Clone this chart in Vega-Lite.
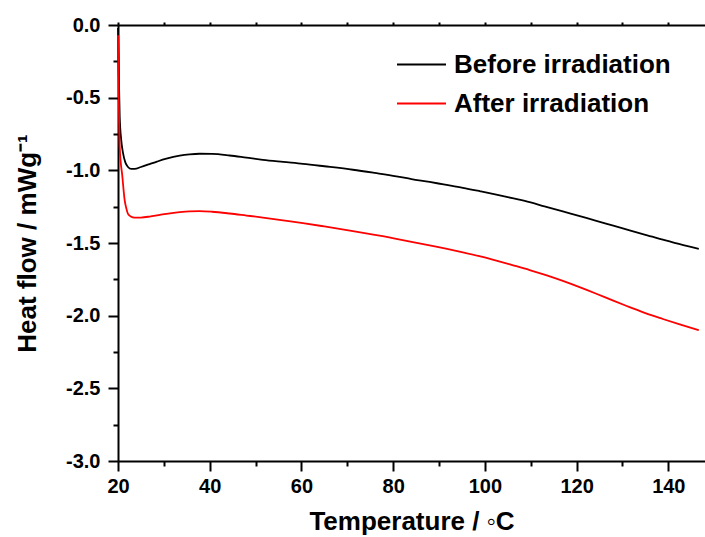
{
  "$schema": "https://vega.github.io/schema/vega-lite/v6.json",
  "width": 587,
  "height": 436,
  "autosize": {"type": "none"},
  "padding": {"left": 118, "top": 25, "right": 0, "bottom": 76},
  "background": "white",
  "config": {
    "view": {"stroke": null},
    "axis": {
      "domainColor": "black", "domainWidth": 2,
      "tickColor": "black", "tickWidth": 2,
      "labelFont": "Liberation Sans", "labelFontWeight": "bold", "labelFontSize": 20, "labelColor": "black",
      "titleFont": "Liberation Sans", "titleFontWeight": "bold", "titleFontSize": 26, "titleColor": "black",
      "grid": false, "labelFlush": false, "labelOverlap": false
    }
  },
  "data": {"values": [
    {"T": 20.0, "hf": -0.02, "s": "Before irradiation"},
    {"T": 20.15, "hf": -0.3, "s": "Before irradiation"},
    {"T": 20.37, "hf": -0.63, "s": "Before irradiation"},
    {"T": 20.7, "hf": -0.79, "s": "Before irradiation"},
    {"T": 21.09, "hf": -0.88, "s": "Before irradiation"},
    {"T": 21.6, "hf": -0.945, "s": "Before irradiation"},
    {"T": 22.18, "hf": -0.977, "s": "Before irradiation"},
    {"T": 22.9, "hf": -0.99, "s": "Before irradiation"},
    {"T": 23.64, "hf": -0.99, "s": "Before irradiation"},
    {"T": 25.0, "hf": -0.977, "s": "Before irradiation"},
    {"T": 26.9, "hf": -0.957, "s": "Before irradiation"},
    {"T": 28.5, "hf": -0.94, "s": "Before irradiation"},
    {"T": 30.55, "hf": -0.92, "s": "Before irradiation"},
    {"T": 33.45, "hf": -0.899, "s": "Before irradiation"},
    {"T": 35.6, "hf": -0.89, "s": "Before irradiation"},
    {"T": 37.8, "hf": -0.886, "s": "Before irradiation"},
    {"T": 40.5, "hf": -0.887, "s": "Before irradiation"},
    {"T": 44.35, "hf": -0.898, "s": "Before irradiation"},
    {"T": 48.0, "hf": -0.913, "s": "Before irradiation"},
    {"T": 51.6, "hf": -0.928, "s": "Before irradiation"},
    {"T": 56.0, "hf": -0.942, "s": "Before irradiation"},
    {"T": 60.33, "hf": -0.955, "s": "Before irradiation"},
    {"T": 65.0, "hf": -0.972, "s": "Before irradiation"},
    {"T": 71.23, "hf": -0.996, "s": "Before irradiation"},
    {"T": 76.0, "hf": -1.018, "s": "Before irradiation"},
    {"T": 80.69, "hf": -1.041, "s": "Before irradiation"},
    {"T": 84.0, "hf": -1.06, "s": "Before irradiation"},
    {"T": 87.95, "hf": -1.08, "s": "Before irradiation"},
    {"T": 91.0, "hf": -1.097, "s": "Before irradiation"},
    {"T": 95.2, "hf": -1.12, "s": "Before irradiation"},
    {"T": 99.0, "hf": -1.144, "s": "Before irradiation"},
    {"T": 102.5, "hf": -1.167, "s": "Before irradiation"},
    {"T": 106.0, "hf": -1.192, "s": "Before irradiation"},
    {"T": 109.76, "hf": -1.219, "s": "Before irradiation"},
    {"T": 113.0, "hf": -1.248, "s": "Before irradiation"},
    {"T": 117.0, "hf": -1.283, "s": "Before irradiation"},
    {"T": 120.5, "hf": -1.314, "s": "Before irradiation"},
    {"T": 124.3, "hf": -1.347, "s": "Before irradiation"},
    {"T": 128.0, "hf": -1.381, "s": "Before irradiation"},
    {"T": 131.56, "hf": -1.413, "s": "Before irradiation"},
    {"T": 135.0, "hf": -1.444, "s": "Before irradiation"},
    {"T": 138.8, "hf": -1.476, "s": "Before irradiation"},
    {"T": 142.5, "hf": -1.508, "s": "Before irradiation"},
    {"T": 146.65, "hf": -1.54, "s": "Before irradiation"},
    {"T": 20.0, "hf": -0.07, "s": "After irradiation"},
    {"T": 20.15, "hf": -0.45, "s": "After irradiation"},
    {"T": 20.37, "hf": -0.84, "s": "After irradiation"},
    {"T": 20.96, "hf": -1.046, "s": "After irradiation"},
    {"T": 21.46, "hf": -1.207, "s": "After irradiation"},
    {"T": 21.8, "hf": -1.26, "s": "After irradiation"},
    {"T": 22.18, "hf": -1.3, "s": "After irradiation"},
    {"T": 22.8, "hf": -1.318, "s": "After irradiation"},
    {"T": 23.64, "hf": -1.326, "s": "After irradiation"},
    {"T": 25.0, "hf": -1.325, "s": "After irradiation"},
    {"T": 26.9, "hf": -1.318, "s": "After irradiation"},
    {"T": 28.5, "hf": -1.31, "s": "After irradiation"},
    {"T": 30.55, "hf": -1.299, "s": "After irradiation"},
    {"T": 33.45, "hf": -1.287, "s": "After irradiation"},
    {"T": 35.6, "hf": -1.282, "s": "After irradiation"},
    {"T": 37.8, "hf": -1.281, "s": "After irradiation"},
    {"T": 40.5, "hf": -1.285, "s": "After irradiation"},
    {"T": 44.35, "hf": -1.297, "s": "After irradiation"},
    {"T": 48.0, "hf": -1.311, "s": "After irradiation"},
    {"T": 51.6, "hf": -1.325, "s": "After irradiation"},
    {"T": 56.0, "hf": -1.344, "s": "After irradiation"},
    {"T": 60.33, "hf": -1.363, "s": "After irradiation"},
    {"T": 65.0, "hf": -1.386, "s": "After irradiation"},
    {"T": 71.23, "hf": -1.418, "s": "After irradiation"},
    {"T": 76.0, "hf": -1.444, "s": "After irradiation"},
    {"T": 80.69, "hf": -1.471, "s": "After irradiation"},
    {"T": 84.0, "hf": -1.492, "s": "After irradiation"},
    {"T": 87.95, "hf": -1.517, "s": "After irradiation"},
    {"T": 91.5, "hf": -1.539, "s": "After irradiation"},
    {"T": 95.2, "hf": -1.564, "s": "After irradiation"},
    {"T": 99.0, "hf": -1.592, "s": "After irradiation"},
    {"T": 102.5, "hf": -1.621, "s": "After irradiation"},
    {"T": 106.0, "hf": -1.652, "s": "After irradiation"},
    {"T": 109.76, "hf": -1.686, "s": "After irradiation"},
    {"T": 113.5, "hf": -1.723, "s": "After irradiation"},
    {"T": 117.0, "hf": -1.761, "s": "After irradiation"},
    {"T": 120.5, "hf": -1.802, "s": "After irradiation"},
    {"T": 124.3, "hf": -1.849, "s": "After irradiation"},
    {"T": 128.0, "hf": -1.897, "s": "After irradiation"},
    {"T": 131.56, "hf": -1.941, "s": "After irradiation"},
    {"T": 135.0, "hf": -1.983, "s": "After irradiation"},
    {"T": 138.8, "hf": -2.023, "s": "After irradiation"},
    {"T": 142.5, "hf": -2.06, "s": "After irradiation"},
    {"T": 146.65, "hf": -2.1, "s": "After irradiation"}
  ]},
  "layer": [
    {
      "mark": {"type": "line", "strokeWidth": 1.8, "interpolate": "monotone"},
      "encoding": {
        "x": {"field": "T", "type": "quantitative",
          "scale": {"domain": [20, 148], "nice": false, "zero": false},
          "axis": {"orient": "bottom", "values": [20, 40, 60, 80, 100, 120, 140], "tickSize": 10, "labelPadding": 5,
            "title": "Temperature / ◦C", "titlePadding": 12}},
        "y": {"field": "hf", "type": "quantitative",
          "scale": {"domain": [-3, 0], "nice": false, "zero": false},
          "axis": {"orient": "left", "values": [0, -0.5, -1, -1.5, -2, -2.5, -3], "format": ".1f",
            "labelExpr": "replace(datum.label, '−', '-')", "tickSize": 10, "labelPadding": 8,
            "title": "Heat flow / mWg⁻¹", "titlePadding": 25}},
        "color": {"field": "s", "type": "nominal",
          "scale": {"domain": ["Before irradiation", "After irradiation"], "range": ["black", "red"]},
          "legend": {"orient": "none", "legendX": 278, "legendY": 14, "title": null,
            "symbolType": "stroke", "symbolSize": 2401, "symbolStrokeWidth": 1.8,
            "labelFont": "Liberation Sans", "labelFontWeight": "bold", "labelFontSize": 26, "labelColor": "black",
            "labelLimit": 0, "labelOffset": 7, "rowPadding": -8}}
      }
    },
    {
      "mark": {"type": "line", "strokeOpacity": 0},
      "encoding": {
        "x": {"field": "T", "type": "quantitative",
          "axis": {"orient": "bottom", "values": [30, 50, 70, 90, 110, 130], "tickSize": 5, "labels": false, "domain": false, "title": null}},
        "y": {"field": "hf", "type": "quantitative",
          "axis": {"orient": "left", "values": [-0.25, -0.75, -1.25, -1.75, -2.25, -2.75], "tickSize": 5, "labels": false, "domain": false, "title": null}}
      }
    },
    {
      "mark": {"type": "line", "strokeOpacity": 0},
      "encoding": {
        "x": {"field": "T", "type": "quantitative",
          "axis": {"orient": "top", "values": [20, 30, 40, 50, 60, 70, 80, 90, 100, 110, 120, 130, 140], "tickSize": 3, "labels": false, "domain": true, "title": null}}
      }
    }
  ],
  "resolve": {"axis": {"x": "independent", "y": "independent"}}
}
